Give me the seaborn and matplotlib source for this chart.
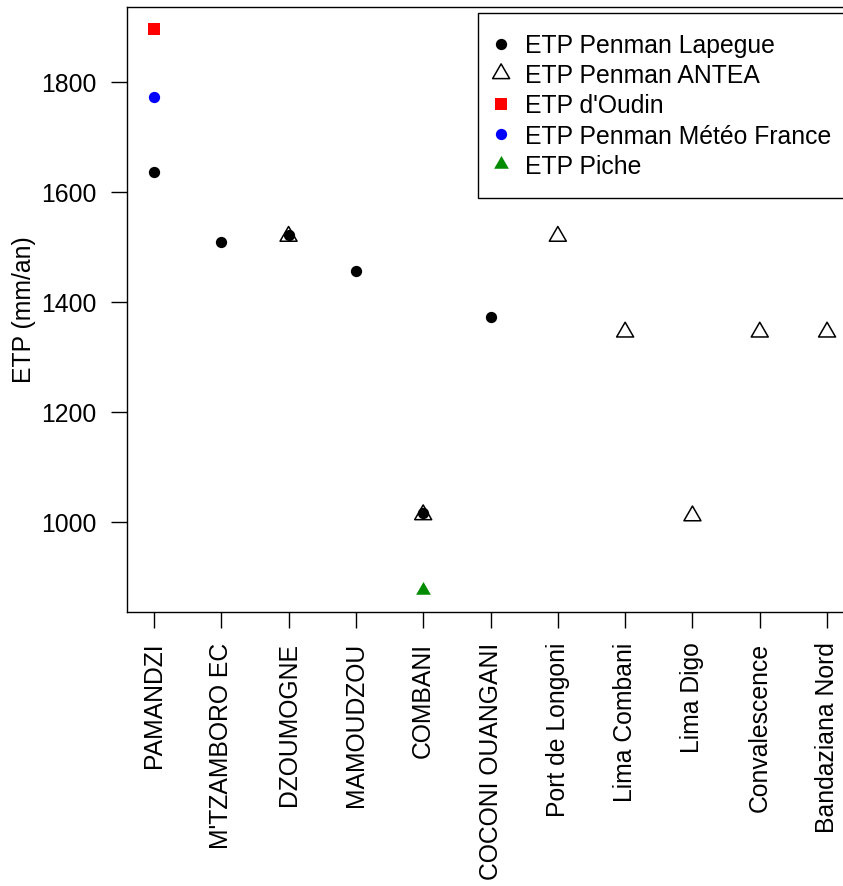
import numpy as np
import pandas as pd
import seaborn as sns
import matplotlib
matplotlib.use("Agg")
import matplotlib.pyplot as plt
from matplotlib.path import Path

# ---- data ----
stations = ["PAMANDZI", "M'TZAMBORO EC", "DZOUMOGNE", "MAMOUDZOU", "COMBANI",
            "COCONI OUANGANI", "Port de Longoni", "Lima Combani", "Lima Digo",
            "Convalescence", "Bandaziana Nord"]

lapegue_st = ["PAMANDZI", "M'TZAMBORO EC", "DZOUMOGNE", "MAMOUDZOU", "COMBANI", "COCONI OUANGANI"]
lapegue_val = [1637, 1509, 1523, 1457, 1018, 1374]

antea_st = ["DZOUMOGNE", "COMBANI", "Port de Longoni", "Lima Combani", "Lima Digo",
            "Convalescence", "Bandaziana Nord"]
antea_val = [1520, 1014, 1520, 1346, 1012, 1346, 1346]

oudin_st = ["PAMANDZI"]
oudin_val = [1896]

meteo_st = ["PAMANDZI"]
meteo_val = [1773]

piche_st = ["COMBANI"]
piche_val = [878]

labels = ["ETP Penman Lapegue", "ETP Penman ANTEA", "ETP d'Oudin",
          "ETP Penman Météo France", "ETP Piche"]
yticks = [1000, 1200, 1400, 1600, 1800]

# ---- style ----
sns.set_style("ticks")
plt.rcParams["font.family"] = ["Liberation Sans", "DejaVu Sans"]
plt.rcParams["text.color"] = "black"
plt.rcParams["axes.labelcolor"] = "black"
plt.rcParams["xtick.color"] = "black"
plt.rcParams["ytick.color"] = "black"
FS = 17.8

W, H = 843, 886
fig = plt.figure(figsize=(W / 100, H / 100), dpi=100)
ax = fig.add_axes([127 / W, 1 - 612 / H, (854 - 127) / W, (612 - 7) / H])

pos = {s: i + 1 for i, s in enumerate(stations)}

def frame(st, val):
    return pd.DataFrame({"x": [pos[s] for s in st], "y": val})

# R-like triangle centred on its centroid
tri = Path([(0, 1.555), (1.347, -0.778), (-1.347, -0.778), (0, 1.555)],
           [Path.MOVETO, Path.LINETO, Path.LINETO, Path.CLOSEPOLY])

sns.scatterplot(data=frame(lapegue_st, lapegue_val), x="x", y="y", ax=ax,
                marker="o", color="black", s=66, linewidth=0, label=labels[0], zorder=3)
sns.scatterplot(data=frame(antea_st, antea_val), x="x", y="y", ax=ax,
                marker=tri, facecolor="none", edgecolor="black", s=200,
                linewidth=1.1, label=labels[1], zorder=4)
sns.scatterplot(data=frame(oudin_st, oudin_val), x="x", y="y", ax=ax,
                marker="s", color="#FF0000", s=70, linewidth=0, label=labels[2], zorder=3)
sns.scatterplot(data=frame(meteo_st, meteo_val), x="x", y="y", ax=ax,
                marker="o", color="#0000FF", s=66, linewidth=0, label=labels[3], zorder=3)
sns.scatterplot(data=frame(piche_st, piche_val), x="x", y="y", ax=ax,
                marker=tri, color="#008B00", s=150, linewidth=0, label=labels[4], zorder=3)

allv = lapegue_val + antea_val + oudin_val + meteo_val + piche_val
lo, hi = min(allv), max(allv)
ax.set_xlim(1 - 0.4, len(stations) + 0.4)
ax.set_ylim(lo - 0.04 * (hi - lo), hi + 0.04 * (hi - lo))

ax.set_xticks(range(1, len(stations) + 1))
ax.set_xticklabels(stations, rotation=90, fontsize=FS)
ax.set_yticks(yticks)
ax.set_yticklabels([str(v) for v in yticks], fontsize=FS)
ax.tick_params(axis="both", direction="out", length=11.5, width=1.0, pad=10.5,
               colors="black")
ax.set_xlabel("")
ax.set_ylabel("ETP (mm/an)", fontsize=FS, labelpad=4, color="black")
for sp in ax.spines.values():
    sp.set_visible(True)
    sp.set_color("black")
    sp.set_linewidth(1.0)

leg = ax.legend(loc="upper left", bbox_to_anchor=(478 / W, 1 - 13 / H),
                bbox_transform=fig.transFigure, fontsize=FS, frameon=True,
                fancybox=False, framealpha=1, edgecolor="black",
                borderpad=0.77, handlelength=0.33, handleheight=1.22,
                handletextpad=0.81, labelspacing=0.16, borderaxespad=0)
leg.get_frame().set_linewidth(1.0)
for t in leg.get_texts():
    t.set_color("black")

fig.savefig("out.png", dpi=100)
